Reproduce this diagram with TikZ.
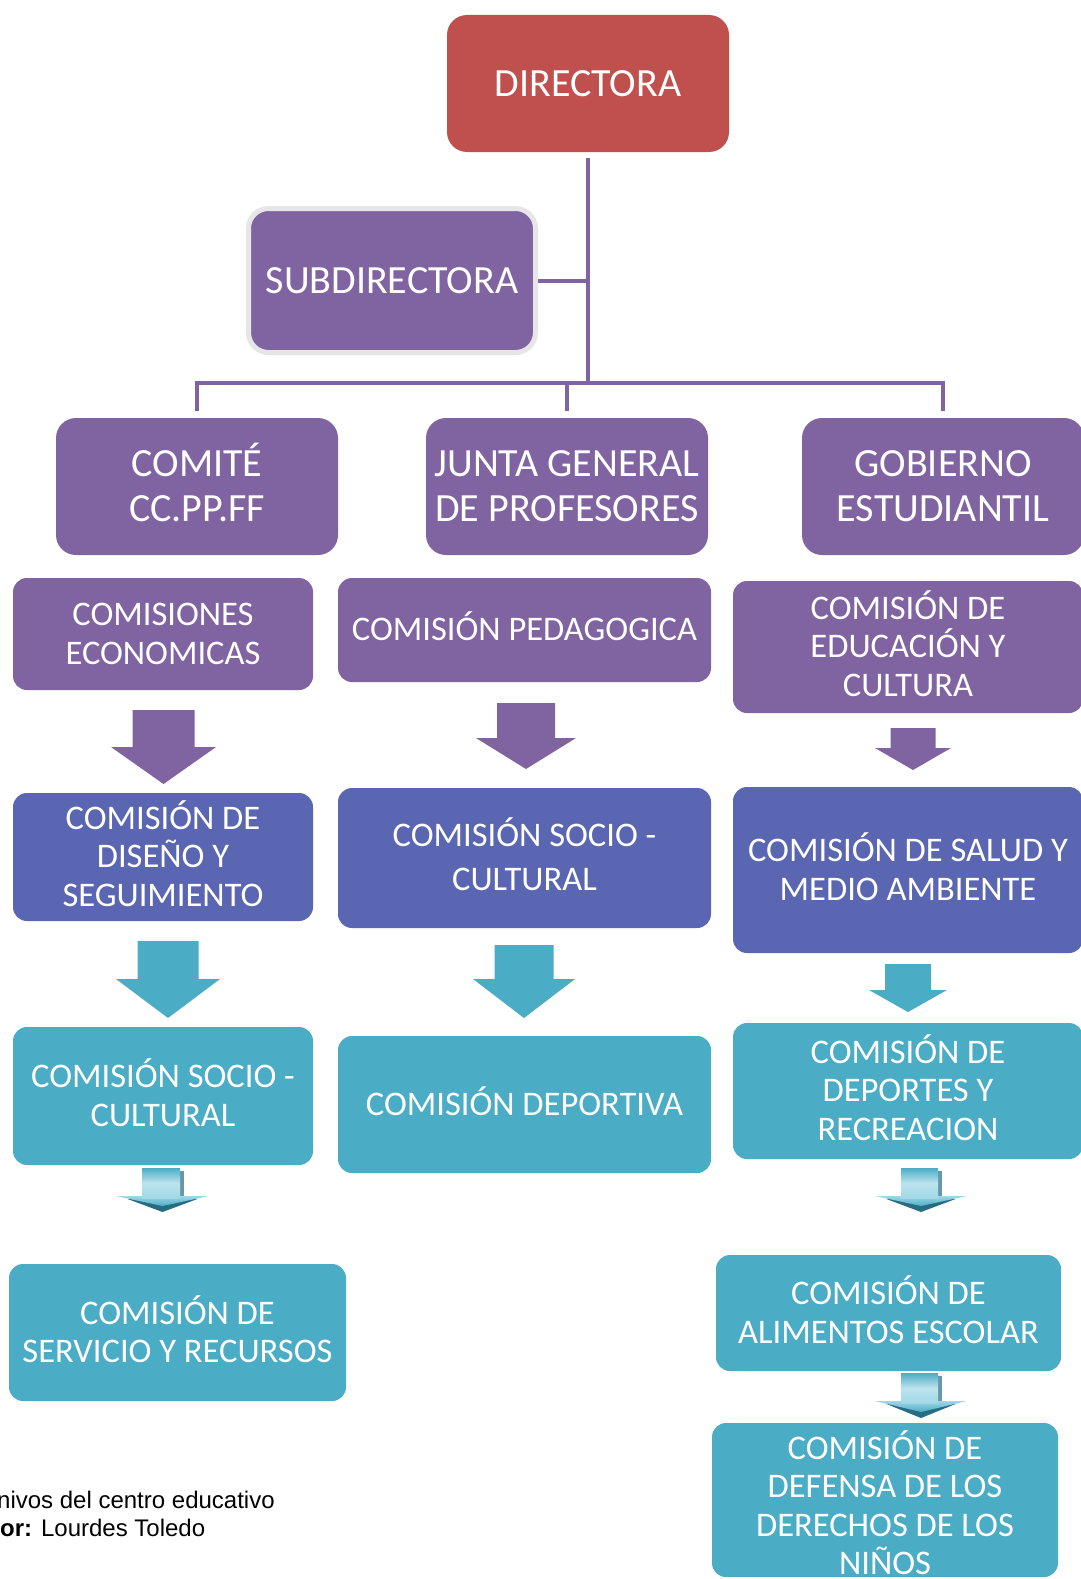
\documentclass[tikz,border=0pt]{standalone}
\usepackage{fontspec}
\setmainfont{Carlito}
\newfontfamily\captionfont{Liberation Sans}
\usetikzlibrary{calc}

\definecolor{dirRed}{RGB}{192,80,77}
\definecolor{orgPurple}{RGB}{128,100,162}
\definecolor{orgBlue}{RGB}{90,102,178}
\definecolor{orgTeal}{RGB}{75,172,198}
\definecolor{tealLight}{RGB}{160,216,230}
\definecolor{tealDark}{RGB}{38,108,130}
\definecolor{subRim}{RGB}{230,230,230}

\tikzset{
  orgbox/.style={rectangle, rounded corners=14pt, text=white, align=center, inner sep=0pt},
  headbox/.style={orgbox, rounded corners=20pt, minimum width=282pt, minimum height=137pt,
    font=\fontsize{40}{45}\selectfont},
  rowbox/.style={orgbox, font=\fontsize{34.5}{38.5}\selectfont},
  % text heights by number of lines (cap height + line skips)
  hl1/.style={text height=25.3pt}, hl2/.style={text height=70.3pt},
  rl1/.style={text height=21.8pt}, rl2/.style={text height=60.3pt},
  rl3/.style={text height=98.8pt}, rl4/.style={text height=137.3pt},
  orgline/.style={draw=orgPurple, line width=4pt},
  caption/.style={inner sep=0pt, font=\captionfont\fontsize{24}{28}\selectfont}
}

%% block arrow: style, x centre, top, head start, tip, half shaft, half head
\newcommand{\blockarrow}[7]{%
  \fill[#1] (#2-#6,#3) -- (#2+#6,#3) -- (#2+#6,#4) -- (#2+#7,#4) -- (#2,#5)
    -- (#2-#7,#4) -- (#2-#6,#4) -- cycle;}
%% shiny arrow: x centre, top, head start, tip, half shaft, half head
\newcommand{\shinyarrow}[6]{%
  \fill[tealDark] (#1-#6*0.75,#3+3) -- (#1+#6*0.75,#3+3) -- (#1,#4) -- cycle;
  \shade[top color=tealLight, bottom color=orgTeal] (#1-#6,#3) -- (#1+#6,#3)
    -- (#1,#4-6) -- cycle;
  \fill[tealDark!70] (#1+#5-4,#2+3) rectangle (#1+#5+1,#3);
  \shade[top color=orgTeal, bottom color=tealLight, middle color=tealLight!70]
    (#1-#5,#2) rectangle (#1+#5-3,#3+2);}

\begin{document}
\begin{tikzpicture}[x=1pt, y=-1pt]
\useasboundingbox[fill=white] (0,0) rectangle (1081,1579);

%% top of the chart
\node[headbox, hl1, fill=dirRed] (dir) at (588,83.5) {DIRECTORA};
\node[headbox, hl1, fill=orgPurple, draw=subRim, line width=5pt, minimum width=287pt,
  minimum height=144pt] (sub) at (392,280.5) {SUBDIRECTORA};

\node[headbox, hl2, fill=orgPurple] (comite) at (197,486.5) {COMITÉ\\CC.PP.FF};
\node[headbox, hl2, fill=orgPurple] (junta) at (567,486.5) {JUNTA GENERAL\\DE PROFESORES};
\node[headbox, hl2, fill=orgPurple] (gob) at (943,486.5) {GOBIERNO\\ESTUDIANTIL};

%% connectors
\coordinate (bus) at (588,383);
\draw[orgline, shorten <=6pt] (dir.south) -- (dir.south |- bus);
\draw[orgline] (sub.east) -- (sub.east -| dir.south);
\draw[orgline, shorten <=7pt, shorten >=7pt] (comite.north) -- (comite.north |- bus)
  -- (gob.north |- bus) -- (gob.north);
\draw[orgline, shorten >=7pt] (junta.north |- bus) -- (junta.north);

%% left column
\node[rowbox, rl2, fill=orgPurple, minimum width=300pt, minimum height=112pt] (econ)
  at (163,634) {COMISIONES\\ECONOMICAS};
\node[rowbox, rl3, fill=orgBlue, minimum width=300pt, minimum height=128pt] (dis)
  at (163,857) {COMISIÓN DE\\DISEÑO Y\\SEGUIMIENTO};
\node[rowbox, rl2, fill=orgTeal, minimum width=300pt, minimum height=138pt] (soc2)
  at (163,1096) {COMISIÓN SOCIO -\\CULTURAL};
\node[rowbox, rl2, fill=orgTeal, minimum width=337pt, minimum height=137pt] (serv)
  at (177.5,1332.5) {COMISIÓN DE\\SERVICIO Y RECURSOS};

%% middle column
\node[rowbox, rl1, fill=orgPurple, minimum width=373pt, minimum height=104pt] (ped)
  at (524.5,630) {COMISIÓN PEDAGOGICA};
\node[rowbox, fill=orgBlue, minimum width=373pt, minimum height=140pt,
  font=\fontsize{34.5}{44}\selectfont, text height=65.8pt] (soc1)
  at (524.5,858) {COMISIÓN SOCIO -\\CULTURAL};
\node[rowbox, rl1, fill=orgTeal, minimum width=373pt, minimum height=137pt] (dep)
  at (524.5,1104.5) {COMISIÓN DEPORTIVA};

%% right column
\node[rowbox, rl3, fill=orgPurple, minimum width=350pt, minimum height=132pt] (edu)
  at (908,647) {COMISIÓN DE\\EDUCACIÓN Y\\CULTURA};
\node[rowbox, rl2, fill=orgBlue, minimum width=350pt, minimum height=166pt] (sal)
  at (908,870) {COMISIÓN DE SALUD Y\\MEDIO AMBIENTE};
\node[rowbox, rl3, fill=orgTeal, minimum width=350pt, minimum height=136pt] (rec)
  at (908,1091) {COMISIÓN DE\\DEPORTES Y\\RECREACION};
\node[rowbox, rl2, fill=orgTeal, minimum width=345pt, minimum height=116pt] (ali)
  at (888.5,1313) {COMISIÓN DE\\ALIMENTOS ESCOLAR};
\node[rowbox, fill=orgTeal, minimum width=346pt, minimum height=154pt,
  text height=149.3pt] (def)
  at (885,1500) {COMISIÓN DE\\DEFENSA DE LOS\\DERECHOS DE LOS\\NIÑOS};

%% arrows
\blockarrow{orgPurple}{163.5}{710}{747}{784}{31}{52.5}
\blockarrow{orgPurple}{526}{703}{738}{769}{29}{50}
\blockarrow{orgPurple}{913}{728}{748}{770}{22.5}{38}
\blockarrow{orgTeal}{168}{941}{979}{1018}{30.5}{52}
\blockarrow{orgTeal}{524}{945}{979}{1018}{29.5}{51}
\blockarrow{orgTeal}{908}{964}{990}{1012}{23}{39}
\shinyarrow{162.5}{1168}{1196}{1212}{20.5}{46.5}
\shinyarrow{921}{1168}{1196}{1212}{20}{46}
\shinyarrow{921}{1373}{1401}{1418}{20}{46}

%% source
\node[caption, anchor=base west] (src) at (-3,1508) {nivos del centro educativo};
\node[caption, anchor=base west] (aut) at (0,1536) {\textbf{or:} Lourdes Toledo};

\end{tikzpicture}
\end{document}
